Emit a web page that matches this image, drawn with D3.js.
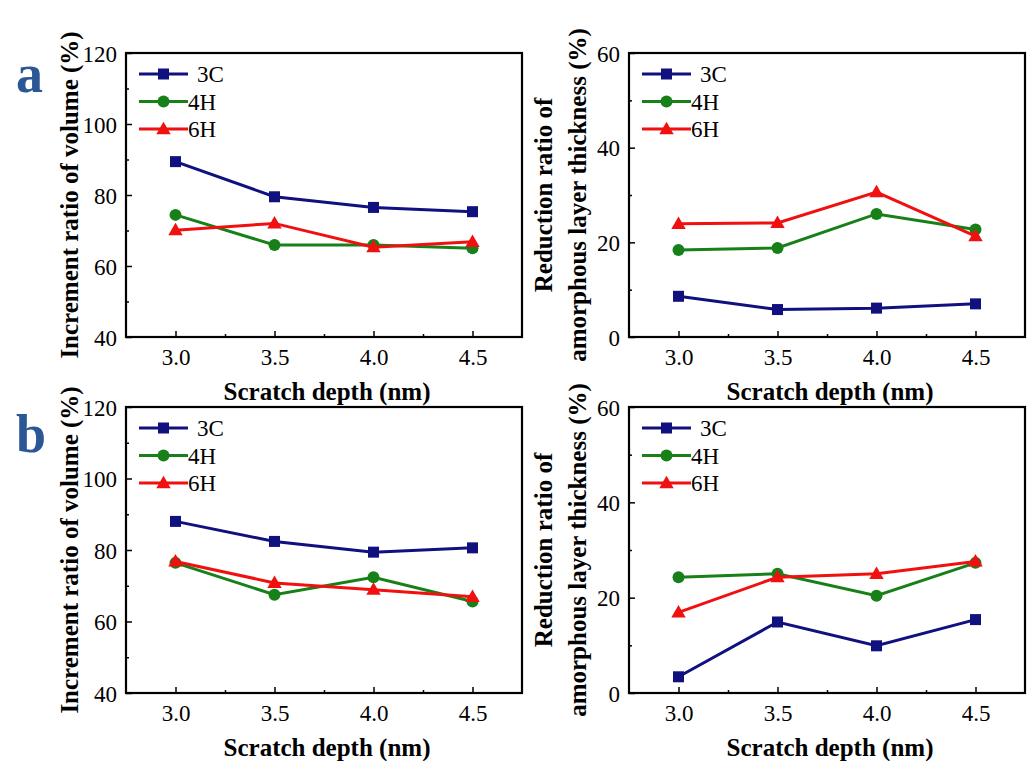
<!DOCTYPE html>
<html><head><meta charset="utf-8">
<script src="https://cdn.jsdelivr.net/npm/d3@7"></script>
<style>
body{margin:0;background:#fff;}
svg text{font-family:"Liberation Serif","Times New Roman",serif !important;}
</style></head>
<body><svg id="c" width="1027" height="761"></svg>
<script>
const depths = [3.0, 3.5, 4.0, 4.5];
const seriesNames = ["3C", "4H", "6H"];
const seriesColors = ["#10107f", "#188018", "#f01010"];
const xTicks = [3.0, 3.5, 4.0, 4.5];
const volumeTicks = [40, 60, 80, 100, 120];
const thicknessTicks = [0, 20, 40, 60];

// panel a
const aVol3C = [89.4, 79.5, 76.5, 75.3];
const aVol4H = [74.4, 65.9, 65.9, 65.0];
const aVol6H = [70.1, 72.0, 65.3, 66.8];
const aThk3C = [8.6, 5.8, 6.1, 7.0];
const aThk4H = [18.4, 18.8, 26.0, 22.7];
const aThk6H = [23.9, 24.1, 30.6, 21.3];
// panel b
const bVol3C = [88.0, 82.4, 79.4, 80.6];
const bVol4H = [76.4, 67.5, 72.4, 65.6];
const bVol6H = [76.8, 70.8, 68.9, 66.9];
const bThk3C = [3.4, 14.9, 9.9, 15.4];
const bThk4H = [24.3, 25.0, 20.4, 27.3];
const bThk6H = [16.9, 24.3, 25.0, 27.6];

const xLabel = "Scratch depth (nm)";
const volLabel = ["Increment ratio of volume (%)"];
const thkLabel = ["Reduction ratio of", "amorphous layer thickness (%)"];

const FONT = "Liberation Serif";
const svg = d3.select("#c");

function panel(cfg){
  const {left, top, width, height, yDomain, yTicks, series, yLabel, ylabX} = cfg;
  const g = svg.append("g").attr("transform", `translate(${left},${top})`);
  const x = d3.scaleLinear().domain([2.75, 4.75]).range([0, width]);
  const y = d3.scaleLinear().domain(yDomain).range([height, 0]);
  const step = yTicks[1] - yTicks[0];

  const xMinor = [3.25, 3.75, 4.25];
  const yMinor = yTicks.slice(0, -1).map(t => t + step / 2);
  g.append("g").attr("transform", `translate(0,${height})`)
    .call(d3.axisBottom(x).tickValues(xTicks).tickFormat(d3.format(".1f")).tickSizeInner(-6).tickSizeOuter(0).tickPadding(12));
  g.append("g").attr("transform", `translate(0,${height})`)
    .call(d3.axisBottom(x).tickValues(xMinor).tickFormat("").tickSizeInner(-3).tickSizeOuter(0));
  const yAx = g.append("g")
    .call(d3.axisLeft(y).tickValues(yTicks).tickSizeInner(-6).tickSizeOuter(0).tickPadding(9));
  g.append("g")
    .call(d3.axisLeft(y).tickValues(yMinor).tickFormat("").tickSizeInner(-3).tickSizeOuter(0));
  g.selectAll(".domain").remove();
  g.selectAll("g").attr("font-family", FONT);
  g.selectAll(".tick line").attr("stroke", "#000").attr("stroke-width", 1.5);
  g.selectAll(".tick text").attr("font-size", 23).attr("fill", "#000").attr("font-family", FONT);
  yAx.selectAll(".tick text").attr("dy", "0.35em");

  g.append("rect").attr("x", 0).attr("y", 0).attr("width", width).attr("height", height)
    .attr("fill", "none").attr("stroke", "#000").attr("stroke-width", 2.2);

  const line = d3.line().x((d, i) => x(depths[i])).y(d => y(d));
  series.forEach((vals, si) => {
    const col = seriesColors[si];
    g.append("path").datum(vals).attr("d", line).attr("fill", "none")
      .attr("stroke", col).attr("stroke-width", 3);
    vals.forEach((v, i) => marker(g, si, x(depths[i]), y(v), col));
  });

  const lg = g.append("g").attr("transform", "translate(13,21)");
  seriesNames.forEach((n, i) => {
    const yy = i * 27.5;
    lg.append("line").attr("x1", 0).attr("x2", 49).attr("y1", yy).attr("y2", yy)
      .attr("stroke", seriesColors[i]).attr("stroke-width", 3);
    marker(lg, i, 24.5, yy, seriesColors[i]);
    lg.append("text").attr("x", i === 0 ? 58 : 49).attr("y", yy).attr("dy", "0.35em")
      .attr("font-family", FONT).attr("font-size", 23).text(n);
  });

  svg.append("text").attr("x", left + width / 2 + 3).attr("y", top + height + 63)
    .attr("text-anchor", "middle").attr("font-weight", "bold").attr("font-size", 25)
    .attr("font-family", FONT).text(xLabel);
  yLabel.forEach((t, i) => {
    svg.append("text").attr("transform", `translate(${ylabX[i]},${top + height / 2}) rotate(-90)`)
      .attr("text-anchor", "middle").attr("dy", "0.35em").attr("font-weight", "bold")
      .attr("font-family", FONT).attr("font-size", 25).text(t);
  });
}

function marker(g, si, cx, cy, col){
  if (si === 0) {
    g.append("rect").attr("x", cx - 5.5).attr("y", cy - 5.5).attr("width", 11).attr("height", 11).attr("fill", col);
  } else if (si === 1) {
    g.append("circle").attr("cx", cx).attr("cy", cy).attr("r", 6).attr("fill", col);
  } else {
    g.append("path").attr("d", d3.symbol(d3.symbolTriangle, 90)()).attr("transform", `translate(${cx},${cy + 1})`).attr("fill", col);
  }
}

panel({left:126, top:53, width:396, height:284, yDomain:[40,120], yTicks:volumeTicks,
  series:[aVol3C, aVol4H, aVol6H], yLabel:volLabel, ylabX:[69]});
panel({left:629, top:53, width:396, height:284, yDomain:[0,60], yTicks:thicknessTicks,
  series:[aThk3C, aThk4H, aThk6H], yLabel:thkLabel, ylabX:[543, 577]});
panel({left:126, top:407, width:396, height:286, yDomain:[40,120], yTicks:volumeTicks,
  series:[bVol3C, bVol4H, bVol6H], yLabel:volLabel, ylabX:[69]});
panel({left:629, top:407, width:396, height:286, yDomain:[0,60], yTicks:thicknessTicks,
  series:[bThk3C, bThk4H, bThk6H], yLabel:thkLabel, ylabX:[543, 577]});

svg.append("text").attr("x", 16).attr("y", 92).attr("font-size", 54).attr("font-weight", "bold")
  .attr("font-family", FONT).attr("fill", "#2c5797").text("a");
svg.append("text").attr("x", 16).attr("y", 452).attr("font-size", 54).attr("font-weight", "bold")
  .attr("font-family", FONT).attr("fill", "#2c5797").text("b");
</script></body></html>
